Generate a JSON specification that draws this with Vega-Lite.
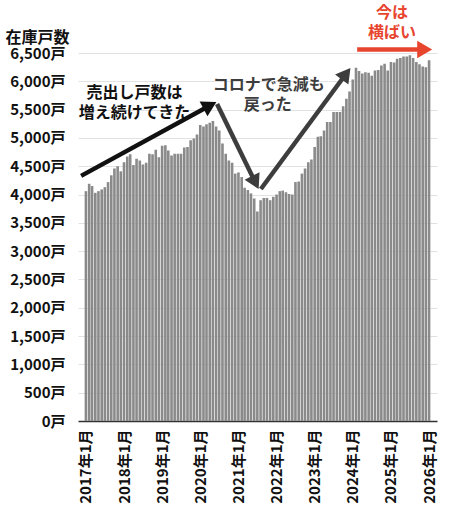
{
  "$schema": "https://vega.github.io/schema/vega-lite/v6.json",
  "width": 359,
  "height": 368,
  "autosize": {"type": "none"},
  "padding": {"left": 78, "top": 53, "right": 13, "bottom": 91},
  "background": "white",
  "datasets": {
    "stock": [
      {"month": "2017-01-01", "stock": 4060}, {"month": "2017-02-01", "stock": 4190}, {"month": "2017-03-01", "stock": 4150},
      {"month": "2017-04-01", "stock": 4030}, {"month": "2017-05-01", "stock": 4060}, {"month": "2017-06-01", "stock": 4090},
      {"month": "2017-07-01", "stock": 4130}, {"month": "2017-08-01", "stock": 4220}, {"month": "2017-09-01", "stock": 4340},
      {"month": "2017-10-01", "stock": 4460}, {"month": "2017-11-01", "stock": 4500}, {"month": "2017-12-01", "stock": 4410},
      {"month": "2018-01-01", "stock": 4570}, {"month": "2018-02-01", "stock": 4670}, {"month": "2018-03-01", "stock": 4710},
      {"month": "2018-04-01", "stock": 4520}, {"month": "2018-05-01", "stock": 4630}, {"month": "2018-06-01", "stock": 4600},
      {"month": "2018-07-01", "stock": 4530}, {"month": "2018-08-01", "stock": 4560}, {"month": "2018-09-01", "stock": 4720},
      {"month": "2018-10-01", "stock": 4710}, {"month": "2018-11-01", "stock": 4790}, {"month": "2018-12-01", "stock": 4660},
      {"month": "2019-01-01", "stock": 4860}, {"month": "2019-02-01", "stock": 4870}, {"month": "2019-03-01", "stock": 4780},
      {"month": "2019-04-01", "stock": 4690}, {"month": "2019-05-01", "stock": 4720}, {"month": "2019-06-01", "stock": 4720},
      {"month": "2019-07-01", "stock": 4720}, {"month": "2019-08-01", "stock": 4830}, {"month": "2019-09-01", "stock": 4840},
      {"month": "2019-10-01", "stock": 4960}, {"month": "2019-11-01", "stock": 4990}, {"month": "2019-12-01", "stock": 5060},
      {"month": "2020-01-01", "stock": 5230}, {"month": "2020-02-01", "stock": 5200}, {"month": "2020-03-01", "stock": 5240},
      {"month": "2020-04-01", "stock": 5270}, {"month": "2020-05-01", "stock": 5300}, {"month": "2020-06-01", "stock": 5200},
      {"month": "2020-07-01", "stock": 5130}, {"month": "2020-08-01", "stock": 4900}, {"month": "2020-09-01", "stock": 4720},
      {"month": "2020-10-01", "stock": 4600}, {"month": "2020-11-01", "stock": 4560}, {"month": "2020-12-01", "stock": 4370},
      {"month": "2021-01-01", "stock": 4390}, {"month": "2021-02-01", "stock": 4310}, {"month": "2021-03-01", "stock": 4120},
      {"month": "2021-04-01", "stock": 4080}, {"month": "2021-05-01", "stock": 4020}, {"month": "2021-06-01", "stock": 3930},
      {"month": "2021-07-01", "stock": 3700}, {"month": "2021-08-01", "stock": 3900}, {"month": "2021-09-01", "stock": 3940},
      {"month": "2021-10-01", "stock": 3940}, {"month": "2021-11-01", "stock": 3900}, {"month": "2021-12-01", "stock": 3960},
      {"month": "2022-01-01", "stock": 4000}, {"month": "2022-02-01", "stock": 4060}, {"month": "2022-03-01", "stock": 4070},
      {"month": "2022-04-01", "stock": 4040}, {"month": "2022-05-01", "stock": 4010}, {"month": "2022-06-01", "stock": 4000},
      {"month": "2022-07-01", "stock": 4220}, {"month": "2022-08-01", "stock": 4230}, {"month": "2022-09-01", "stock": 4370},
      {"month": "2022-10-01", "stock": 4460}, {"month": "2022-11-01", "stock": 4570}, {"month": "2022-12-01", "stock": 4620},
      {"month": "2023-01-01", "stock": 4840}, {"month": "2023-02-01", "stock": 5020}, {"month": "2023-03-01", "stock": 5030},
      {"month": "2023-04-01", "stock": 5130}, {"month": "2023-05-01", "stock": 5280}, {"month": "2023-06-01", "stock": 5280},
      {"month": "2023-07-01", "stock": 5460}, {"month": "2023-08-01", "stock": 5460}, {"month": "2023-09-01", "stock": 5460},
      {"month": "2023-10-01", "stock": 5560}, {"month": "2023-11-01", "stock": 5690}, {"month": "2023-12-01", "stock": 5820},
      {"month": "2024-01-01", "stock": 6030}, {"month": "2024-02-01", "stock": 6240}, {"month": "2024-03-01", "stock": 6180},
      {"month": "2024-04-01", "stock": 6140}, {"month": "2024-05-01", "stock": 6160}, {"month": "2024-06-01", "stock": 6150},
      {"month": "2024-07-01", "stock": 6100}, {"month": "2024-08-01", "stock": 6190}, {"month": "2024-09-01", "stock": 6200},
      {"month": "2024-10-01", "stock": 6280}, {"month": "2024-11-01", "stock": 6310}, {"month": "2024-12-01", "stock": 6190},
      {"month": "2025-01-01", "stock": 6340}, {"month": "2025-02-01", "stock": 6330}, {"month": "2025-03-01", "stock": 6400},
      {"month": "2025-04-01", "stock": 6410}, {"month": "2025-05-01", "stock": 6440}, {"month": "2025-06-01", "stock": 6440},
      {"month": "2025-07-01", "stock": 6460}, {"month": "2025-08-01", "stock": 6410}, {"month": "2025-09-01", "stock": 6340},
      {"month": "2025-10-01", "stock": 6300}, {"month": "2025-11-01", "stock": 6260}, {"month": "2025-12-01", "stock": 6250},
      {"month": "2026-01-01", "stock": 6370}
    ],
    "arrows": [
      {"name": "rise", "kind": "up", "d1": "2016-11-16", "v1": 4330, "d2": "2020-04-03", "v2": 5574},
      {"name": "drop", "kind": "covid", "d1": "2020-06-10", "v1": 5600, "d2": "2021-06-12", "v2": 4213},
      {"name": "rebound", "kind": "covid", "d1": "2021-08-04", "v1": 4098, "d2": "2023-10-29", "v2": 6133},
      {"name": "flat", "kind": "flat", "d1": "2024-02-12", "v1": 6562, "d2": "2025-11-20", "v2": 6562}
    ],
    "notes": [
      {"text": "売出し戸数は", "kind": "up", "d": "2018-04-12", "v": 5800},
      {"text": "増え続けてきた", "kind": "up", "d": "2018-04-12", "v": 5440},
      {"text": "コロナで急減も", "kind": "covid", "d": "2021-10-18", "v": 5940},
      {"text": "戻った", "kind": "covid", "d": "2021-10-08", "v": 5580},
      {"text": "今は", "kind": "flat", "d": "2025-01-12", "v": 7200},
      {"text": "横ばい", "kind": "flat", "d": "2025-01-12", "v": 6855}
    ]
  },
  "layer": [
    {
      "data": {"name": "stock"},
      "mark": {"type": "bar", "size": 2.6, "color": "#8a8a8a"},
      "encoding": {
        "x": {
          "field": "month",
          "type": "temporal",
          "scale": {
            "type": "utc",
            "domain": [
              {"year": 2016, "month": 12, "date": 4, "utc": true},
              {"year": 2026, "month": 1, "date": 29, "utc": true}
            ]
          },
          "axis": {
            "title": null,
            "tickCount": {"interval": "year", "step": 1},
            "labelExpr": "utcFormat(datum.value, '%Y') + '年' + utcFormat(datum.value, '%-m') + '月'",
            "labelAngle": -90,
            "labelPadding": 8,
            "labelBound": false,
            "ticks": false,
            "grid": false,
            "domainColor": "#333333",
            "domainWidth": 1.5
          }
        },
        "y": {
          "field": "stock",
          "type": "quantitative",
          "scale": {"domain": [0, 6500]},
          "axis": {
            "title": "在庫戸数",
            "titleAngle": 0,
            "titleAlign": "left",
            "titleBaseline": "middle",
            "titleX": -73,
            "titleY": -16,
            "titleFontSize": 16,
            "tickCount": 13,
            "labelExpr": "format(datum.value, ',') + '戸'",
            "labelPadding": 13,
            "ticks": false,
            "domain": false,
            "gridColor": "#e2e2e2"
          }
        }
      }
    },
    {
      "data": {"name": "arrows"},
      "mark": {"type": "rule", "strokeWidth": 4.5, "strokeCap": "butt"},
      "encoding": {
        "x": {"field": "d1", "type": "temporal"},
        "y": {"field": "v1", "type": "quantitative", "axis": {"tickCount": 13}},
        "x2": {"field": "d2"},
        "y2": {"field": "v2"},
        "color": {"field": "kind", "type": "nominal", "legend": null}
      }
    },
    {
      "data": {"name": "arrows"},
      "transform": [{"filter": "datum.name == 'rise'"}],
      "mark": {"type": "point", "shape": "triangle-up", "filled": true, "opacity": 1, "size": 280, "angle": 62, "strokeWidth": 0},
      "encoding": {
        "x": {"field": "d2", "type": "temporal"},
        "y": {"field": "v2", "type": "quantitative", "axis": {"tickCount": 13}},
        "color": {"field": "kind", "type": "nominal", "legend": null}
      }
    },
    {
      "data": {"name": "arrows"},
      "transform": [{"filter": "datum.name == 'drop'"}],
      "mark": {"type": "point", "shape": "triangle-up", "filled": true, "opacity": 1, "size": 280, "angle": 153, "strokeWidth": 0},
      "encoding": {
        "x": {"field": "d2", "type": "temporal"},
        "y": {"field": "v2", "type": "quantitative", "axis": {"tickCount": 13}},
        "color": {"field": "kind", "type": "nominal", "legend": null}
      }
    },
    {
      "data": {"name": "arrows"},
      "transform": [{"filter": "datum.name == 'rebound'"}],
      "mark": {"type": "point", "shape": "triangle-up", "filled": true, "opacity": 1, "size": 280, "angle": 37, "strokeWidth": 0},
      "encoding": {
        "x": {"field": "d2", "type": "temporal"},
        "y": {"field": "v2", "type": "quantitative", "axis": {"tickCount": 13}},
        "color": {"field": "kind", "type": "nominal", "legend": null}
      }
    },
    {
      "data": {"name": "arrows"},
      "transform": [{"filter": "datum.name == 'flat'"}],
      "mark": {"type": "point", "shape": "triangle-up", "filled": true, "opacity": 1, "size": 300, "angle": 90, "strokeWidth": 0},
      "encoding": {
        "x": {"field": "d2", "type": "temporal"},
        "y": {"field": "v2", "type": "quantitative", "axis": {"tickCount": 13}},
        "color": {"field": "kind", "type": "nominal", "legend": null}
      }
    },
    {
      "data": {"name": "notes"},
      "mark": {"type": "text", "fontSize": 16, "fontWeight": "bold", "align": "center", "baseline": "middle"},
      "encoding": {
        "x": {"field": "d", "type": "temporal"},
        "y": {"field": "v", "type": "quantitative", "axis": {"tickCount": 13}},
        "text": {"field": "text"},
        "color": {"field": "kind", "type": "nominal", "legend": null}
      }
    }
  ],
  "resolve": {"scale": {"color": "shared"}},
  "encoding": {
    "color": {
      "scale": {"domain": ["up", "covid", "flat"], "range": ["#111111", "#3d3d3d", "#e8452f"]}
    }
  },
  "config": {
    "font": "Noto Sans CJK JP",
    "view": {"stroke": null},
    "axis": {
      "labelFont": "Noto Sans CJK JP",
      "labelFontSize": 15,
      "labelFontWeight": "bold",
      "labelColor": "#111111",
      "labelOverlap": false,
      "labelFlush": false,
      "titleFont": "Noto Sans CJK JP",
      "titleFontWeight": "bold",
      "titleColor": "#111111"
    },
    "axisY": {"tickCount": 13},
    "text": {"font": "Noto Sans CJK JP"}
  }
}
